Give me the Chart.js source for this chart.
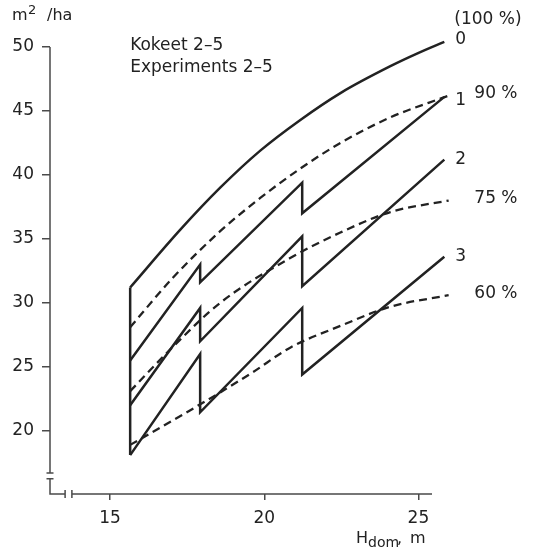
<!DOCTYPE html>
<html>
<head>
<meta charset="utf-8">
<script src="https://cdn.jsdelivr.net/npm/chart.js@4/dist/chart.umd.min.js"></script>
<style>
  html, body { margin: 0; padding: 0; background: #fff; }
  #wrap { width: 538px; height: 548px; }
</style>
</head>
<body>
<div id="wrap"><canvas id="basal-chart"></canvas></div>
<script>
// Dominant height (m) at which the thinnings were made
const thinH = [15.65, 17.92, 21.23, 25.84];

// Basal area m2/ha, unthinned (0)
const curve0H = [15.65, 17.27, 18.57, 19.87, 21.17, 22.47, 24.09, 24.97, 25.84];
const curve0G = [31.2, 35.7, 39.0, 41.9, 44.3, 46.4, 48.5, 49.5, 50.4];

// Thinned series 1-3: start, then before / after each later thinning
const curve1G = [25.5, 33.0, 31.6, 39.4, 37.0, 46.1, 42.2];
const curve2G = [22.0, 29.6, 27.0, 35.2, 31.3, 41.2, 34.7];
const curve3G = [18.1, 26.0, 21.45, 29.6, 24.4, 33.6, 26.7];

// Dashed reference levels (90 %, 75 %, 60 % of unthinned)
const ref90H = [15.65, 17.05, 18.57, 19.87, 21.17, 22.47, 24.09, 25.98];
const ref90G = [28.1, 32.0, 35.6, 38.2, 40.5, 42.5, 44.5, 46.2];
const ref75H = [15.65, 17.05, 18.57, 20.84, 22.47, 24.09, 25.98];
const ref75G = [23.1, 26.6, 30.0, 33.5, 35.5, 37.1, 38.0];
const ref60H = [15.65, 17.45, 18.57, 19.64, 20.84, 22.47, 24.09, 25.98];
const ref60G = [18.9, 21.4, 23.0, 24.6, 26.5, 28.2, 29.7, 30.6];

const curveNames = ["0", "1", "2", "3"];
const levelNames = ["(100 %)", "90 %", "75 %", "60 %"];

// axis break positions (data units)
const yBreak = [16.7, 16.25];
const xBreak = [13.54, 13.76];

const ink = "#222222";
const axisInk = "#4a4a4a";
const fontFamily = "'DejaVu Sans', sans-serif";

function pts(xs, ys) {
  return ys.map((v, i) => ({ x: xs[i], y: v }));
}

const sawH = [thinH[0], thinH[1], thinH[1], thinH[2], thinH[2], thinH[3], thinH[3]];

function solid(data, smooth) {
  return {
    data: data,
    borderColor: ink,
    borderWidth: 2.5,
    pointRadius: 0,
    showLine: true,
    fill: false,
    clip: false,
    tension: 0,
    cubicInterpolationMode: smooth ? "monotone" : "default",
  };
}

function dashed(data) {
  const d = solid(data, true);
  d.borderDash = [8, 5];
  d.borderWidth = 2.3;
  return d;
}

// axis lines with the breaks, titles and curve labels
const decor = {
  id: "decor",
  afterDraw(chart) {
    const { ctx, chartArea, scales } = chart;
    const x = scales.x;
    const y = scales.y;
    const left = chartArea.left;
    const bottom = chartArea.bottom;

    ctx.save();
    ctx.strokeStyle = axisInk;
    ctx.lineWidth = 1.5;
    ctx.beginPath();
    // y axis, upper part
    ctx.moveTo(left, y.getPixelForValue(50));
    ctx.lineTo(left, y.getPixelForValue(yBreak[0]));
    ctx.moveTo(left - 3.5, y.getPixelForValue(yBreak[0]));
    ctx.lineTo(left + 3.5, y.getPixelForValue(yBreak[0]));
    // lower stub
    ctx.moveTo(left - 3.5, y.getPixelForValue(yBreak[1]));
    ctx.lineTo(left + 3.5, y.getPixelForValue(yBreak[1]));
    ctx.moveTo(left, y.getPixelForValue(yBreak[1]));
    ctx.lineTo(left, bottom);
    ctx.lineTo(x.getPixelForValue(xBreak[0]), bottom);
    ctx.moveTo(x.getPixelForValue(xBreak[0]), bottom - 4);
    ctx.lineTo(x.getPixelForValue(xBreak[0]), bottom + 4);
    // x axis
    ctx.moveTo(x.getPixelForValue(xBreak[1]), bottom - 4);
    ctx.lineTo(x.getPixelForValue(xBreak[1]), bottom + 4);
    ctx.moveTo(x.getPixelForValue(xBreak[1]), bottom);
    ctx.lineTo(chartArea.right, bottom);
    ctx.stroke();

    ctx.fillStyle = ink;
    ctx.textAlign = "left";
    ctx.textBaseline = "alphabetic";

    // y title  m2 /ha
    ctx.font = "16px " + fontFamily;
    ctx.fillText("m", 12, 20);
    ctx.fillText("/ha", 47, 20);
    ctx.font = "13px " + fontFamily;
    ctx.fillText("2", 28, 14);

    // x title  Hdom, m
    ctx.font = "16px " + fontFamily;
    ctx.fillText("H", 356, 543);
    ctx.fillText(",", 397, 543);
    ctx.fillText("m", 410, 543);
    ctx.font = "14px " + fontFamily;
    ctx.fillText("dom", 368, 547);

    // caption
    ctx.font = "17px " + fontFamily;
    ctx.textBaseline = "middle";
    const capX = x.getPixelForValue(thinH[0]);
    ctx.fillText("Kokeet 2–5", capX, 46);
    ctx.fillText("Experiments 2–5", capX, 68);

    // curve numbers beside the last points
    const xe = x.getPixelForValue(thinH[3]);
    const peaks = [curve0G[curve0G.length - 1], curve1G[5], curve2G[5], curve3G[5]];
    const numShift = [-2, 4, 0, 0];
    curveNames.forEach((t, i) => {
      ctx.fillText(t, xe + 11, y.getPixelForValue(peaks[i]) + numShift[i]);
    });

    // level labels
    const levels = [curve0G[curve0G.length - 1], ref90G[ref90G.length - 1],
      ref75G[ref75G.length - 1], ref60G[ref60G.length - 1]];
    levelNames.forEach((t, i) => {
      if (i === 0) {
        ctx.fillText(t, xe + 10, y.getPixelForValue(levels[i]) - 22);
      } else {
        ctx.fillText(t, xe + 30, y.getPixelForValue(levels[i]) - 2);
      }
    });
    ctx.restore();
  },
};

Chart.defaults.font.family = fontFamily;
Chart.defaults.color = ink;

const ctx = document.getElementById("basal-chart").getContext("2d");
const basalChart = new Chart(ctx, {
  type: "scatter",
  data: {
    datasets: [
      solid(pts(curve0H, curve0G), true),
      solid([{ x: thinH[0], y: curve0G[0] }, { x: thinH[0], y: curve3G[0] }], false),
      solid(pts(sawH, curve1G), false),
      solid(pts(sawH, curve2G), false),
      solid(pts(sawH, curve3G), false),
      dashed(pts(ref90H, ref90G)),
      dashed(pts(ref75H, ref75G)),
      dashed(pts(ref60H, ref60G)),
    ],
  },
  options: {
    responsive: true,
    maintainAspectRatio: false,
    animation: false,
    layout: {
      padding: { left: 0, right: 106, top: 47, bottom: 0 },
    },
    scales: {
      x: {
        type: "linear",
        min: 13.05,
        max: 25.44,
        afterFit: (s) => { s.height = 54; },
        border: { display: false },
        grid: {
          drawOnChartArea: false,
          drawTicks: true,
          tickLength: 6,
          color: axisInk,
          lineWidth: 1.5,
        },
        ticks: {
          stepSize: 5,
          includeBounds: false,
          padding: 8,
          color: ink,
          font: { size: 17 },
        },
      },
      y: {
        type: "linear",
        min: 15.06,
        max: 50,
        afterFit: (s) => { s.width = 50; },
        border: { display: false },
        grid: {
          drawOnChartArea: false,
          drawTicks: true,
          tickLength: 8,
          color: axisInk,
          lineWidth: 1.5,
        },
        ticks: {
          stepSize: 5,
          includeBounds: false,
          padding: 8,
          color: ink,
          font: { size: 17 },
        },
      },
    },
    plugins: {
      legend: { display: false },
      tooltip: { enabled: false },
    },
  },
  plugins: [decor],
});
</script>
</body>
</html>
